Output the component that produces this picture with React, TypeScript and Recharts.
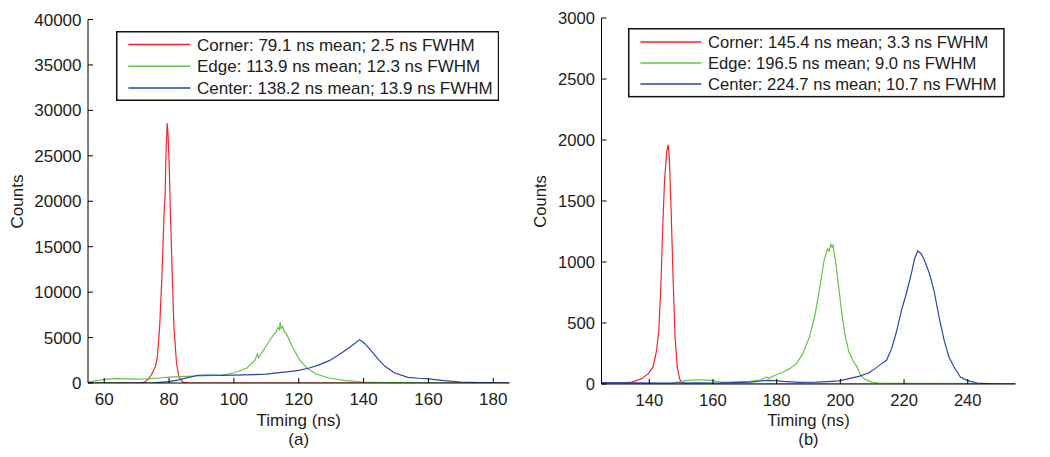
import React from 'react';
import { LineChart, Line, XAxis, YAxis, Legend } from 'recharts';

// ---- panel (a) ----
const cornerATime = [55, 65, 71, 72.5, 73.5, 74.5, 75.8, 76.4, 77.1, 77.8, 78.5, 78.8, 79.0, 79.4, 79.7, 80.0, 80.4, 81.0, 81.5, 82.3, 83.1, 84.3, 86, 110, 185];
const cornerACounts = [0, 0, 0, 100, 400, 880, 1800, 2900, 6200, 11700, 19000, 20700, 24500, 28600, 27200, 24500, 19000, 11700, 6200, 2170, 600, 100, 0, 0, 0];

const edgeATime = [55, 58, 61, 64, 67, 70, 73, 76, 80, 85, 90, 96, 100, 104, 106.5, 107.2, 107.6, 110, 112, 113, 113.5, 114, 114.3, 114.6, 115, 115.5, 116.2, 118.2, 120.2, 122.3, 125.3, 129.4, 134.4, 140, 146.6, 155, 170, 185];
const edgeACounts = [100, 280, 420, 480, 460, 420, 450, 520, 640, 720, 780, 860, 1100, 1650, 2500, 3200, 2800, 4100, 5200, 5600, 6100, 5900, 6700, 6000, 6200, 5700, 5400, 3850, 2570, 1720, 990, 550, 260, 110, 40, 10, 0, 0];

const centerATime = [55, 70, 75, 80, 83, 86, 89, 92, 96, 100, 106, 110, 114, 117, 120, 123.3, 126.3, 129.4, 132.4, 135.4, 137.5, 138.7, 139.3, 140.5, 142.5, 144.6, 146.6, 149.6, 153.7, 157, 160, 164.8, 169.9, 175, 180, 185];
const centerACounts = [0, 0, 30, 150, 350, 620, 850, 880, 840, 860, 920, 980, 1140, 1250, 1390, 1650, 2000, 2460, 3120, 3850, 4400, 4770, 4650, 4300, 3490, 2570, 1835, 1100, 620, 520, 460, 260, 110, 40, 10, 0];

const timeTicksA = [60, 80, 100, 120, 140, 160, 180];
const countTicksA = [0, 5000, 10000, 15000, 20000, 25000, 30000, 35000, 40000];
const labelsA = [
  'Corner: 79.1 ns mean; 2.5 ns FWHM',
  'Edge: 113.9 ns mean; 12.3 ns FWHM',
  'Center: 138.2 ns mean; 13.9 ns FWHM',
];

// ---- panel (b) ----
const cornerBTime = [125, 130.4, 134.5, 137.6, 139.7, 141.2, 142.3, 143, 143.6, 144.2, 144.8, 145.5, 145.9, 146.3, 146.9, 147.5, 148.1, 148.8, 149.5, 150.2, 152, 255];
const cornerBCounts = [5, 8, 16, 44, 85, 140, 275, 440, 770, 1260, 1670, 1910, 1960, 1860, 1390, 850, 385, 140, 44, 10, 0, 0];

const edgeBTime = [125, 140, 147, 149, 152, 155.2, 159.3, 162.4, 166, 171.8, 175, 176.9, 177.5, 179, 182.1, 184.1, 186.2, 188.2, 190.3, 191.9, 193.4, 194.9, 196, 196.5, 197, 197.4, 197.7, 198.6, 199.6, 200.6, 201.6, 202.7, 204.2, 205.3, 206.3, 207.8, 209.9, 211.9, 220, 255];
const edgeBCounts = [3, 3, 5, 15, 30, 35, 30, 16, 15, 22, 35, 57, 45, 66, 98, 126, 167, 249, 385, 549, 768, 1014, 1109, 1090, 1145, 1120, 1137, 986, 768, 549, 385, 262, 180, 139, 71, 38, 16, 8, 5, 3];

const centerBTime = [125, 135, 145, 155, 161.4, 166, 171.8, 176.9, 180, 182.1, 187.2, 192.4, 196, 199.6, 202.7, 205.8, 208.9, 210.9, 213, 214.5, 216.1, 217.6, 219.2, 220.7, 222.3, 223.3, 224.3, 225.4, 226.4, 228, 229.5, 231, 232.6, 234.1, 235.7, 237.7, 239.8, 242.9, 249.1, 255];
const centerBCounts = [12, 10, 8, 10, 8, 12, 16, 30, 28, 22, 14, 16, 20, 25, 44, 63, 90, 126, 167, 194, 290, 426, 604, 740, 904, 1027, 1090, 1068, 1014, 904, 754, 549, 358, 221, 139, 57, 30, 8, 0, 0];

const timeTicksB = [140, 160, 180, 200, 220, 240];
const countTicksB = [0, 500, 1000, 1500, 2000, 2500, 3000];
const labelsB = [
  'Corner: 145.4 ns mean; 3.3 ns FWHM',
  'Edge: 196.5 ns mean; 9.0 ns FWHM',
  'Center: 224.7 ns mean; 10.7 ns FWHM',
];

const COLORS = ['#f2262a', '#63c545', '#2c46a8'];
const TEXT = '#1c1c1c';
const FONT = 'Arial, "Liberation Sans", sans-serif';

const zip = (t: number[], c: number[]) => t.map((x, i) => ({ t: x, c: c[i] }));

interface BoxSpec {
  left: number;
  top: number;
  w: number;
  h: number;
  firstRow: number; // centre of first row, from box top
  row: number;
  lineX: number; // sample line start, from box left
  lineLen: number;
  textX: number;
}

interface PanelProps {
  series: { t: number; c: number }[][];
  labels: string[];
  xDomain: [number, number];
  xTicks: number[];
  yDomain: [number, number];
  yTicks: number[];
  margin: { top: number; right: number; bottom: number; left: number };
  yWidth: number;
  box: BoxSpec;
  fontSize: number;
  caption: string;
  countsX: number;
  plotCenter: number;
}

const Panel: React.FC<PanelProps> = ({
  series, labels, xDomain, xTicks, yDomain, yTicks, margin, yWidth, box, fontSize, caption, countsX, plotCenter,
}) => {
  const tickStyle = { fill: TEXT, fontSize, fontFamily: FONT };

  // matlab-style boxed legend
  const legendBox = () => (
    <svg width={box.w} height={box.h} style={{ display: 'block' }}>
      <rect x={0.75} y={0.75} width={box.w - 1.5} height={box.h - 1.5} fill="#fff" stroke="#111" strokeWidth={1.5} />
      {labels.map((l, i) => {
        const cy = box.firstRow + i * box.row;
        return (
          <g key={l}>
            <line x1={box.lineX} x2={box.lineX + box.lineLen} y1={cy} y2={cy} stroke={COLORS[i]} strokeWidth={1.5} />
            <text x={box.textX} y={cy + fontSize * 0.35} fontSize={fontSize} fontFamily={FONT} fill={TEXT}>
              {l}
            </text>
          </g>
        );
      })}
    </svg>
  );

  return (
    <div style={{ position: 'relative', width: 525, height: 457 }}>
      <LineChart width={525} height={457} margin={margin}>
        <XAxis
          dataKey="t"
          type="number"
          domain={xDomain}
          ticks={xTicks}
          allowDataOverflow
          height={30}
          stroke="#000"
          tickSize={-5}
          tickMargin={15}
          tick={tickStyle}
        />
        <XAxis
          xAxisId="top"
          orientation="top"
          dataKey="t"
          type="number"
          domain={xDomain}
          ticks={xTicks}
          allowDataOverflow
          height={0}
          stroke="#000"
          tickSize={-5}
          tick={false}
        />
        <YAxis
          type="number"
          domain={yDomain}
          ticks={yTicks}
          allowDataOverflow
          width={yWidth}
          stroke="#000"
          tickSize={-5}
          tickMargin={11.5}
          tick={tickStyle}
        />
        <YAxis
          yAxisId="right"
          orientation="right"
          type="number"
          domain={yDomain}
          ticks={yTicks}
          allowDataOverflow
          width={0}
          stroke="#000"
          tickSize={-5}
          tick={false}
        />
        {series.map((d, i) => (
          <Line
            key={labels[i]}
            data={d}
            dataKey="c"
            type="linear"
            stroke={COLORS[i]}
            strokeWidth={1.2}
            dot={false}
            activeDot={false}
            isAnimationActive={false}
          />
        ))}
        <Legend
          layout="horizontal"
          verticalAlign="middle"
          align="center"
          content={legendBox}
          wrapperStyle={{ left: box.left, top: box.top, width: box.w, height: box.h }}
        />
      </LineChart>
      <svg
        width={525}
        height={457}
        style={{ position: 'absolute', left: 0, top: 0, pointerEvents: 'none' }}
      >
        <text
          transform={`translate(${countsX},201.5) rotate(-90)`}
          textAnchor="middle"
          fontSize={fontSize}
          fontFamily={FONT}
          fill={TEXT}
        >
          Counts
        </text>
        <text x={plotCenter} y={426.4} textAnchor="middle" fontSize={fontSize} fontFamily={FONT} fill={TEXT}>
          Timing (ns)
        </text>
        <text x={plotCenter} y={445.4} textAnchor="middle" fontSize={fontSize} fontFamily={FONT} fill={TEXT}>
          {caption}
        </text>
      </svg>
    </div>
  );
};

export default function App() {
  return (
    <div style={{ position: 'absolute', left: 0, top: 0, width: 1050, height: 457, background: '#fff', display: 'flex' }}>
      <Panel
        series={[zip(cornerATime, cornerACounts), zip(edgeATime, edgeACounts), zip(centerATime, centerACounts)]}
        labels={labelsA}
        xDomain={[55, 185]}
        xTicks={timeTicksA}
        yDomain={[0, 40000]}
        yTicks={countTicksA}
        margin={{ top: 19.5, right: 15.5, bottom: 44, left: 0 }}
        yWidth={88}
        box={{ left: 115.7, top: 30.7, w: 383.3, h: 70, firstRow: 13.6, row: 21.7, lineX: 12.3, lineLen: 62, textX: 81 }}
        fontSize={17}
        caption="(a)"
        countsX={22.7}
        plotCenter={298.75}
      />
      <Panel
        series={[zip(cornerBTime, cornerBCounts), zip(edgeBTime, edgeBCounts), zip(centerBTime, centerBCounts)]}
        labels={labelsB}
        xDomain={[125, 255]}
        xTicks={timeTicksB}
        yDomain={[0, 3000]}
        yTicks={countTicksB}
        margin={{ top: 18, right: 34.5, bottom: 43, left: 0 }}
        yWidth={76.5}
        box={{ left: 103.3, top: 28.3, w: 376.7, h: 69.4, firstRow: 14, row: 21, lineX: 12.4, lineLen: 61, textX: 80 }}
        fontSize={16.6}
        caption="(b)"
        countsX={21}
        plotCenter={283.5}
      />
    </div>
  );
}
